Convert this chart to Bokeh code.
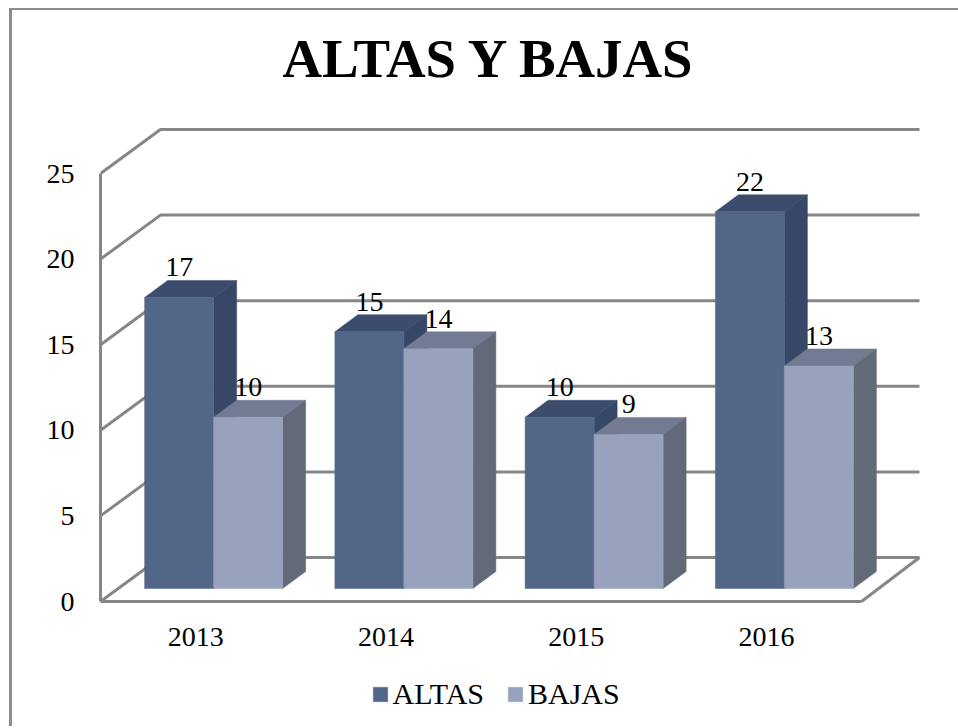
from bokeh.embed import file_html
from bokeh.resources import INLINE
from bokeh.core.properties import value
from bokeh.models import FixedTicker, Legend, LegendItem, Range1d
from bokeh.plotting import figure

# ---- data ----
title_text = "ALTAS Y BAJAS"
years = ["2013", "2014", "2015", "2016"]
altas = [17, 15, 10, 22]
bajas = [10, 14, 9, 13]
y_ticks = [0, 5, 10, 15, 20, 25]

# ---- styling / geometry ----
FONT = "Liberation Serif"
GRID = "#868686"
PX_X, PX_Y = 190.25, 17.12        # pixels per category and per value unit
PLOT_H, BELOW_H = 591, 125        # frame height above and below the zero line
FRAME_W, FRAME_H = 826, PLOT_H + BELOW_H
X0 = -0.5
WALL_DX, WALL_DY = 60 / PX_X, 44 / PX_Y
RIGHT_END = X0 + 819 / PX_X
FRONT_END = X0 + 761 / PX_X
BAR_W = 69 / PX_X
BAR_SHIFT = -51 / PX_X
BASE = 13 / PX_Y
BAR_DX, BAR_DY = 23 / PX_X, 17 / PX_Y

p = figure(
    width=946, height=716, frame_width=FRAME_W, frame_height=FRAME_H,
    output_backend="svg", toolbar_location=None,
    x_range=Range1d(X0, X0 + FRAME_W / PX_X), y_range=Range1d(-BELOW_H / PX_Y, PLOT_H / PX_Y),
    min_border_left=88, min_border_right=32, min_border_top=0, min_border_bottom=0,
    outline_line_color=None, background_fill_color="white", border_fill_color="white",
    margin=(8, 0, 0, 9),
)
p.styles = {"border-left": "3px solid #8c8c8c", "border-top": "2px solid #8c8c8c"}

p.grid.visible = False

# title
p.text(
    x=[X0 + 389 / PX_X], y=[543 / PX_Y], text=[title_text],
    text_font=value(FONT), text_font_size=value("54.8px"), text_font_style="bold",
    text_color="black", text_align="center", text_baseline="alphabetic",
)

# axes
for ax in (p.xaxis[0], p.yaxis[0]):
    ax.axis_line_color = GRID
    ax.axis_line_width = 3
    ax.major_tick_line_color = None
    ax.minor_tick_line_color = None
    ax.major_label_text_font = FONT
    ax.major_label_text_font_size = "28px"
    ax.major_label_text_color = "black"
p.yaxis[0].ticker = FixedTicker(ticks=y_ticks)
p.yaxis[0].bounds = (0, y_ticks[-1])
p.yaxis[0].major_label_standoff = 20
idx = list(range(len(years)))
p.xaxis[0].ticker = FixedTicker(ticks=idx)
p.xaxis[0].major_label_overrides = dict(zip(idx, years))
p.xaxis[0].bounds = (X0, FRONT_END)
p.xaxis[0].major_label_standoff = 20
p.xaxis[0].fixed_location = 0

# back wall and side wall grid lines
for t in y_ticks:
    p.line([X0, X0 + WALL_DX, RIGHT_END], [t, t + WALL_DY, t + WALL_DY],
           line_color=GRID, line_width=3, line_join="round")
# floor right edge
p.line([FRONT_END, RIGHT_END], [0, WALL_DY], line_color=GRID, line_width=3)


def bars(vals, k, front, top, side):
    lefts = [i + BAR_SHIFT + k * BAR_W for i in idx]
    rights = [l + BAR_W for l in lefts]
    tops = [BASE + v for v in vals]
    p.patches(
        [[l, r, r + BAR_DX, l + BAR_DX] for l, r in zip(lefts, rights)],
        [[t, t, t + BAR_DY, t + BAR_DY] for t in tops],
        fill_color=top, line_color=top, line_width=0.5)
    p.patches(
        [[r, r + BAR_DX, r + BAR_DX, r] for r in rights],
        [[BASE, BASE + BAR_DY, t + BAR_DY, t] for t in tops],
        fill_color=side, line_color=side, line_width=0.5)
    return p.quad(left=lefts, right=rights, bottom=BASE, top=tops,
                  fill_color=front, line_color=front, line_width=0.5)


r_a = bars(altas, 0, "#526688", "#3c4c6c", "#374768")
r_b = bars(bajas, 1, "#98a2bc", "#727b92", "#626a7a")

# value labels
for vals, k in ((altas, 0), (bajas, 1)):
    p.text(
        x=[i + BAR_SHIFT + (k + 0.5) * BAR_W for i in idx],
        y=[BASE + BAR_DY + v for v in vals],
        text=[str(v) for v in vals],
        text_font=value(FONT), text_font_size=value("28px"), text_color="black",
        text_align="center", text_baseline="alphabetic", y_offset=-13,
    )

legend = Legend(
    items=[LegendItem(label="ALTAS", renderers=[r_a]), LegendItem(label="BAJAS", renderers=[r_b])],
    orientation="horizontal", location=(270.5, 15), border_line_color=None,
    background_fill_color=None, glyph_width=18, glyph_height=18, label_standoff=4,
    spacing=22, padding=0, margin=0, label_text_font=FONT, label_text_font_size="30px",
    label_text_color="black", label_text_baseline="middle",
)
p.add_layout(legend, "center")

open("out.html", "w").write(file_html(p, INLINE))
